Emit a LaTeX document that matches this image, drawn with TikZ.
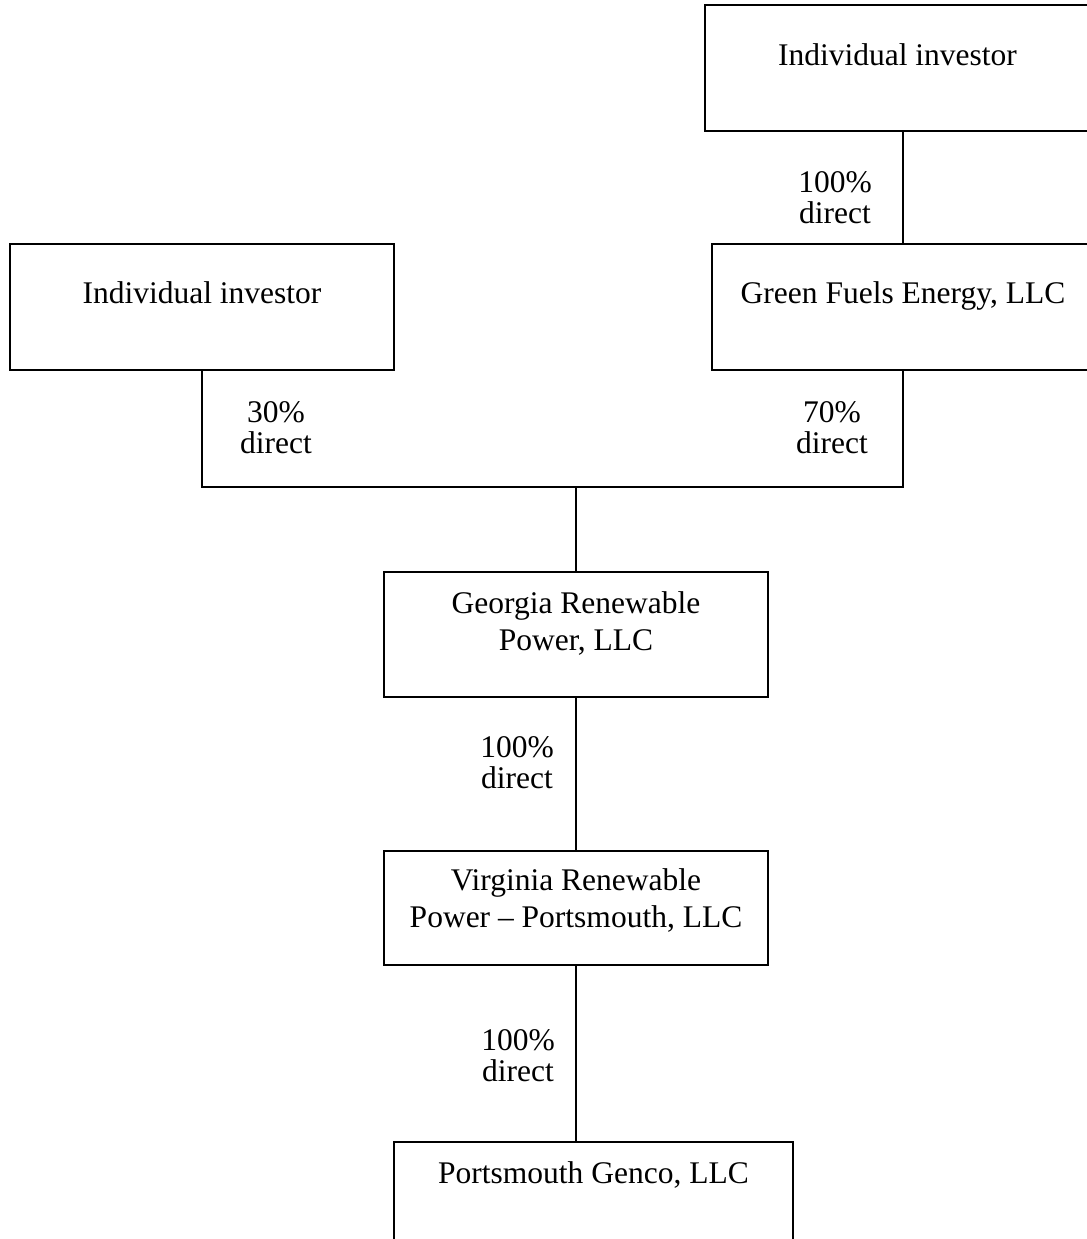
\documentclass[tikz,border=0pt]{standalone}
\usepackage{fontspec}
\setmainfont{Liberation Serif}
\usetikzlibrary{positioning}

\begin{document}
\begin{tikzpicture}[x=0.5pt, y=-0.5pt]

  \tikzset{
    entity/.style = {
      rectangle, draw, line width=1pt, inner xsep=4pt, inner ysep=0pt,
      align=center, anchor=base,
      font=\fontsize{15.75pt}{18.5pt}\selectfont
    },
    stake/.style = {
      align=center, anchor=base, inner sep=0pt,
      font=\fontsize{15.75pt}{15.5pt}\selectfont
    },
    link/.style = {
      line width=1pt
    }
  }

  \useasboundingbox (0,0) rectangle (1087,1239);

  % --- Owners -----------------------------------------------------------------
  \node (topinv) [entity, minimum width=192.5pt, text height=30pt, text depth=33pt]
    at (897.5,65) {Individual investor};
  \node (green)  [entity, minimum width=191pt, text height=29.5pt, text depth=33.5pt]
    at (903,303) {Green Fuels Energy, LLC};
  \node (leftinv) [entity, minimum width=192pt, text height=29.5pt, text depth=33.5pt]
    at (202,303) {Individual investor};

  % --- Chain of subsidiaries (baseline = last line) ------------------------------
  \node (georgia) [entity, minimum width=192pt, text height=39pt, text depth=23.5pt]
    at (576,650) {Georgia Renewable\\Power, LLC};
  \node (virginia) [entity, minimum width=192pt, text height=38pt, text depth=19pt]
    at (576,927) {Virginia Renewable\\Power -- Portsmouth, LLC};
  \node (genco) [entity, minimum width=199.5pt, text height=20.5pt, text depth=40pt]
    at (593.5,1183) {Portsmouth Genco, LLC};

  % --- Ownership links ----------------------------------------------------------
  \coordinate (join) at (576,487);
  \draw [link] (green.north) -- (green.north |- topinv.south);
  \draw [link] (leftinv.south) |- (join) -| (green.south);
  \draw [link] (join) -- (georgia.north);
  \draw [link] (georgia.south) -- (virginia.north);
  \draw [link] (virginia.south) -- (virginia.south |- genco.north);

  % --- Stakes -------------------------------------------------------------------
  \node (s1) [stake] at (835,223)  {100\%\\direct};
  \node (s2) [stake] at (276,453)  {30\%\\direct};
  \node (s3) [stake] at (832,453)  {70\%\\direct};
  \node (s4) [stake] at (517,788)  {100\%\\direct};
  \node (s5) [stake] at (518,1081) {100\%\\direct};

\end{tikzpicture}
\end{document}
